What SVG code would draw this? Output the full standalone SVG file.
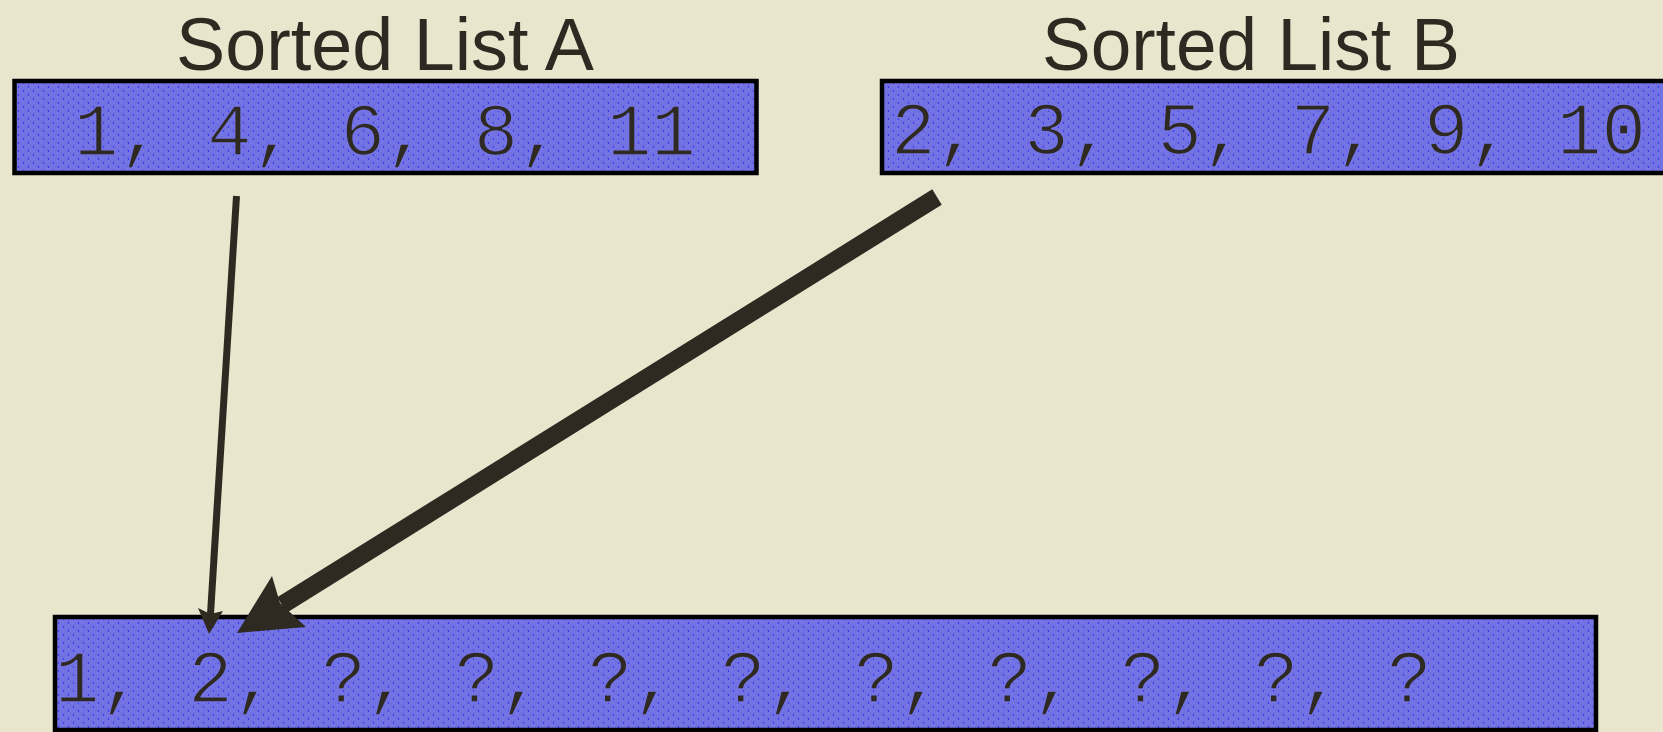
<svg xmlns="http://www.w3.org/2000/svg" width="1663" height="732" viewBox="0 0 1663 732">
<defs>
<pattern id="dots" width="10" height="8" patternUnits="userSpaceOnUse">
<rect width="10" height="8" fill="#7474E4"/>
<rect x="0" y="0" width="5" height="4" fill="#7070E2"/>
<rect x="5" y="4" width="5" height="4" fill="#7070E2"/>
<rect x="3" y="2" width="1" height="2" fill="#3A3AF0"/>
<rect x="8" y="6" width="1" height="2" fill="#3A3AF0"/>
</pattern>
<style>
.box{fill:url(#dots);stroke:#000;stroke-width:4.5}
.title{font-family:"Liberation Sans",Arial,sans-serif;font-size:74px;fill:#2E2A22;text-anchor:middle}
.mono{font-family:"Liberation Mono","Courier New",monospace;font-size:74px;fill:#2E2A22;stroke:#7373E4;stroke-width:1.6}
.arrow{stroke:#2E2A22;fill:none}
.head{fill:#2E2A22}
</style>
</defs>
<rect width="1663" height="732" fill="#EAE5CD"/>
<g id="listA">
<text class="title" x="385" y="70" textLength="418" lengthAdjust="spacingAndGlyphs">Sorted List A</text>
<rect class="box" x="14.5" y="81" width="742" height="92"/>
<text class="mono" x="74" y="155">1, 4, 6, 8, 11</text>
</g>
<g id="listB">
<text class="title" x="1251" y="70" textLength="418" lengthAdjust="spacingAndGlyphs">Sorted List B</text>
<rect class="box" x="882" y="81" width="820" height="92"/>
<text class="mono" x="891" y="154">2, 3, 5, 7, 9, 10</text>
</g>
<g id="merged">
<rect class="box" x="55" y="617" width="1541" height="113"/>
<text class="mono" x="55" y="702">1, 2, ?, ?, ?, ?, ?, ?, ?, ?, ?</text>
</g>
<g id="connectors">
<line class="arrow" x1="236.5" y1="196" x2="210.5" y2="614" stroke-width="7"/>
<polygon class="head" points="209,634 198,608 210.5,614 223,611"/>
<line class="arrow" x1="937" y1="197" x2="282" y2="605" stroke-width="18"/>
<polygon class="head" points="237,633 272,576 280,603 306,627"/>
</g>
</svg>
